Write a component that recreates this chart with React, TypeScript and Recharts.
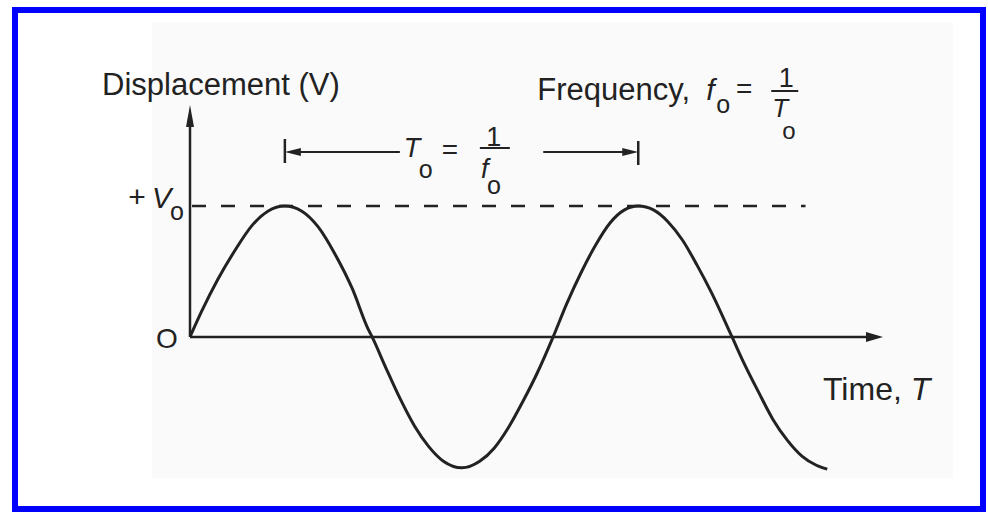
import { Line, LineChart, ReferenceLine, XAxis, YAxis } from "recharts";

// time in periods (T0 = 1), displacement in units of V0
const TIME = [
  0, 0.033, 0.077, 0.124, 0.171, 0.215, 0.262, 0.309, 0.354, 0.401, 0.448, 0.492, 0.503,
  0.54, 0.58, 0.62, 0.66, 0.7, 0.751, 0.8, 0.84, 0.88, 0.92, 0.96, 1.003,
  1.04, 1.08, 1.12, 1.16, 1.2, 1.238, 1.28, 1.32, 1.36, 1.4, 1.44, 1.497,
  1.53, 1.57, 1.61, 1.65, 1.69, 1.73, 1.76
];
const DISPLACEMENT = [
  0, 0.2, 0.44, 0.66, 0.85, 0.96, 1, 0.96, 0.84, 0.63, 0.37, 0.06, 0,
  -0.23, -0.47, -0.68, -0.84, -0.95, -1, -0.95, -0.85, -0.69, -0.49, -0.27, 0,
  0.25, 0.49, 0.7, 0.87, 0.97, 1, 0.97, 0.88, 0.74, 0.55, 0.34, 0,
  -0.2, -0.42, -0.63, -0.79, -0.91, -0.98, -1.01
];

const T_MAX = 1.914;
const V_MIN = -1.05;
const V_MAX = 1.771;
const DASH_END = 1.7;
const SPAN_START = 0.262;
const SPAN_END = 1.238;
const SPAN_LEVEL = 1.412;

const Y_LABEL = "Displacement (V)";
const X_LABEL = "Time, ";
const FREQ_LABEL = "Frequency,";

const data = TIME.map((t, i) => ({ t, v: DISPLACEMENT[i] }));

const INK = "#222";
const FONT = "'Liberation Sans', Arial, sans-serif";

function YAxisArrow(props: any) {
  const { x1, y1, y2 } = props;
  return (
    <g>
      <line x1={x1} y1={y1} x2={x1} y2={y2 + 16} stroke={INK} strokeWidth={2.5} />
      <polygon points={`${x1},${y2} ${x1 - 4},${y2 + 22} ${x1 + 4},${y2 + 22}`} fill={INK} />
      <text x={x1 - 88} y={y2 - 10} fontSize={31} fill={INK} fontFamily={FONT}>
        {Y_LABEL}
      </text>
    </g>
  );
}

function XAxisArrow(props: any) {
  const { x1, y1, x2 } = props;
  return (
    <g>
      <line x1={x1} y1={y1} x2={x2 - 12} y2={y1} stroke={INK} strokeWidth={2.5} />
      <polygon points={`${x2},${y1} ${x2 - 17},${y1 - 5} ${x2 - 17},${y1 + 5}`} fill={INK} />
      <text x={x1 - 23} y={y1 + 11} fontSize={28} fill={INK} fontFamily={FONT} textAnchor="middle">
        O
      </text>
      <text x={x2 - 60} y={y1 + 63} fontSize={32} fill={INK} fontFamily={FONT}>
        {X_LABEL}
        <tspan fontStyle="italic">T</tspan>
      </text>
    </g>
  );
}

function PeakLine(props: any) {
  const { x1, y1, x2 } = props;
  return (
    <g>
      <line x1={x1 + 2} y1={y1} x2={x2} y2={y1} stroke={INK} strokeWidth={2.5} strokeDasharray="14 15" />
      <text x={x1 - 53} y={y1 + 1} fontSize={30} fill={INK} fontFamily={FONT} textAnchor="middle">
        +
      </text>
      <text x={x1 - 38} y={y1 + 2} fontSize={29} fill={INK} fontFamily={FONT} fontStyle="italic">
        V
      </text>
      <text x={x1 - 20} y={y1 + 14} fontSize={25} fill={INK} fontFamily={FONT}>
        o
      </text>
    </g>
  );
}

function PeriodSpan(props: any) {
  const { x1, y1, x2 } = props;
  const y = y1;
  const txt = { fill: INK, fontFamily: FONT };
  return (
    <g>
      <line x1={x1} y1={y - 13} x2={x1} y2={y + 11} stroke={INK} strokeWidth={2.5} />
      <line x1={x2} y1={y - 11} x2={x2} y2={y + 13} stroke={INK} strokeWidth={2.5} />
      <line x1={x1 + 10} y1={y} x2={x1 + 115} y2={y} stroke={INK} strokeWidth={2} />
      <polygon points={`${x1},${y} ${x1 + 16},${y - 4} ${x1 + 16},${y + 4}`} fill={INK} />
      <line x1={x2 - 95} y1={y} x2={x2 - 10} y2={y} stroke={INK} strokeWidth={2} />
      <polygon points={`${x2},${y} ${x2 - 16},${y - 4} ${x2 - 16},${y + 4}`} fill={INK} />

      <text x={x1 + 119} y={y + 5} fontSize={27} fontStyle="italic" {...txt}>T</text>
      <text x={x1 + 134} y={y + 26} fontSize={25} {...txt}>o</text>
      <text x={x1 + 165} y={y + 7} fontSize={28} textAnchor="middle" {...txt}>=</text>
      <text x={x1 + 209} y={y - 6} fontSize={27} textAnchor="middle" {...txt}>1</text>
      <line x1={x1 + 195} y1={y - 4} x2={x1 + 225} y2={y - 4} stroke={INK} strokeWidth={2} />
      <text x={x1 + 200} y={y + 26} fontSize={27} fontStyle="italic" textAnchor="middle" {...txt}>f</text>
      <text x={x1 + 209} y={y + 42} fontSize={25} textAnchor="middle" {...txt}>o</text>

      <text x={x2 - 101} y={y - 52} fontSize={31} {...txt}>{FREQ_LABEL}</text>
      <text x={x2 + 68} y={y - 52} fontSize={30} fontStyle="italic" {...txt}>f</text>
      <text x={x2 + 85} y={y - 39} fontSize={25} textAnchor="middle" {...txt}>o</text>
      <text x={x2 + 106} y={y - 54} fontSize={28} textAnchor="middle" {...txt}>=</text>
      <text x={x2 + 148} y={y - 65} fontSize={27} textAnchor="middle" {...txt}>1</text>
      <line x1={x2 + 133} y1={y - 61} x2={x2 + 160} y2={y - 61} stroke={INK} strokeWidth={2} />
      <text x={x2 + 134} y={y - 35} fontSize={26} {...txt}>
        <tspan fontStyle="italic">T</tspan>
        <tspan dx={-6} dy={22} fontSize={24}>o</tspan>
      </text>
    </g>
  );
}

export default function App() {
  return (
    <div style={{ position: "fixed", left: 0, top: 0, width: 988, height: 519, background: "#fff" }}>
      <div
        style={{
          position: "absolute",
          left: 12,
          top: 7,
          width: 974,
          height: 505,
          border: "6px solid #0000ff",
          boxSizing: "border-box"
        }}
      />
      <div style={{ position: "absolute", left: 152, top: 22, width: 801, height: 456, background: "#fafafa" }} />
      <div style={{ position: "absolute", left: 0, top: 0 }}>
        <LineChart
          width={988}
          height={519}
          data={data}
          margin={{ top: 105, right: 105, bottom: 44.6, left: 190 }}
        >
          <XAxis type="number" dataKey="t" domain={[0, T_MAX]} hide />
          <YAxis type="number" domain={[V_MIN, V_MAX]} hide width={0} />
          <ReferenceLine
            segment={[{ x: 0, y: 0 }, { x: 0, y: V_MAX }]}
            ifOverflow="visible"
            shape={YAxisArrow}
          />
          <ReferenceLine
            segment={[{ x: 0, y: 0 }, { x: T_MAX, y: 0 }]}
            ifOverflow="visible"
            shape={XAxisArrow}
          />
          <ReferenceLine
            segment={[{ x: 0, y: 1 }, { x: DASH_END, y: 1 }]}
            ifOverflow="visible"
            shape={PeakLine}
          />
          <ReferenceLine
            segment={[{ x: SPAN_START, y: SPAN_LEVEL }, { x: SPAN_END, y: SPAN_LEVEL }]}
            ifOverflow="visible"
            shape={PeriodSpan}
          />
          <Line
            type="monotone"
            dataKey="v"
            stroke={INK}
            strokeWidth={3}
            dot={false}
            isAnimationActive={false}
          />
        </LineChart>
      </div>
    </div>
  );
}
